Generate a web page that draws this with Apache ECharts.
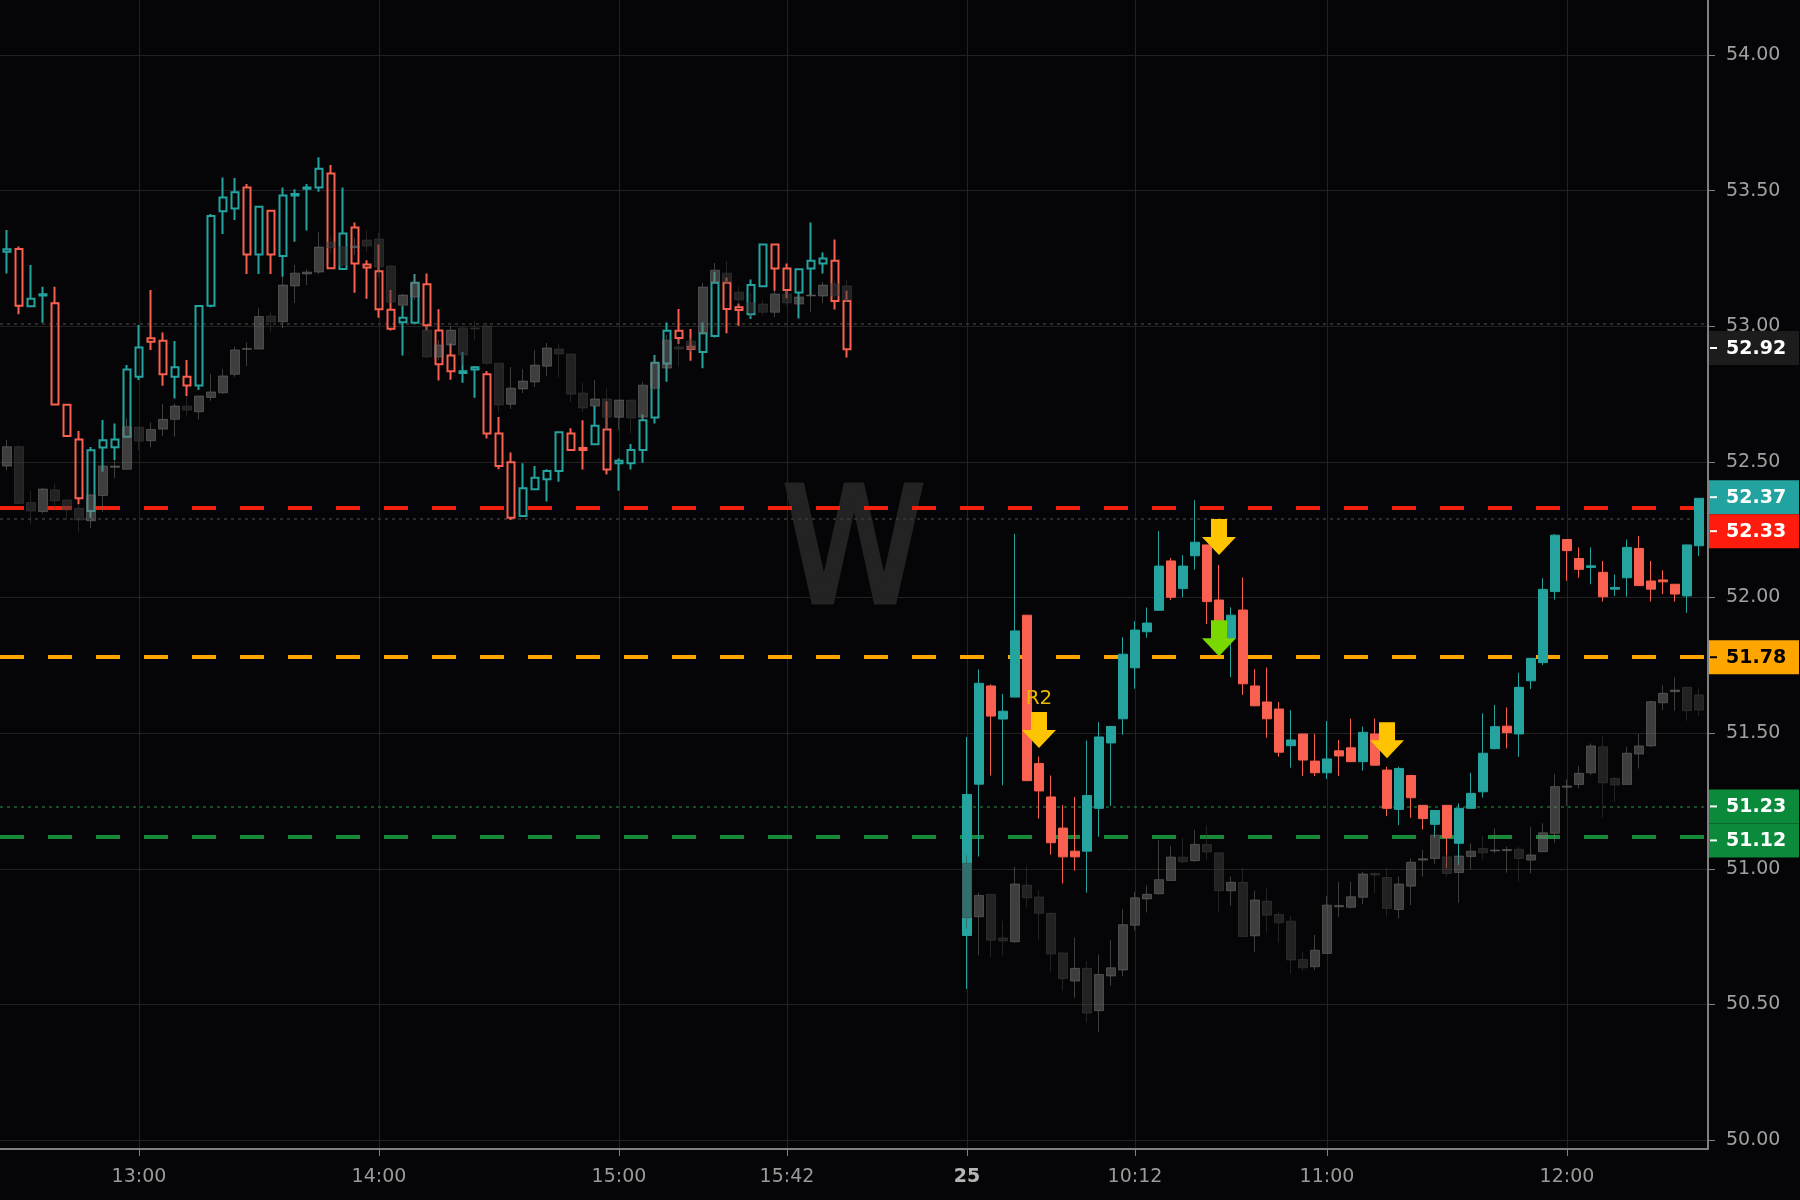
<!DOCTYPE html>
<html>
<head>
<meta charset="utf-8">
<script src="https://cdn.jsdelivr.net/npm/echarts@6/dist/echarts.min.js"></script>
<style>
html,body{margin:0;padding:0;background:#050507;}
#chart{width:1800px;height:1200px;}
</style>
</head>
<body>
<div id="chart"></div>
<script>
// ---------------- DATA ----------------
// x positions are 3-minute slots; session one starts at slot 0 (12:27), session two at slot 80 (09:30 on the 25th)
const sessionOneStart = 0;
const sessionTwoStart = 80;
const timeTickSlots = [11, 31, 51, 65, 80, 94, 110, 130];
const timeTickLabels = ['13:00', '14:00', '15:00', '15:42', '25', '10:12', '11:00', '12:00'];
const priceTicks = [50, 50.5, 51, 51.5, 52, 52.5, 53, 53.5, 54];

// main symbol, [open, close, low, high]
const sessionOne = [
  [53.275,53.284,53.195,53.355],[53.285,53.076,53.044,53.294],[53.074,53.102,53.074,53.226],[53.114,53.118,53.013,53.146],
  [53.085,52.712,52.710,53.146],[52.711,52.596,52.596,52.711],[52.583,52.366,52.344,52.614],[52.319,52.543,52.294,52.555],
  [52.553,52.580,52.464,52.655],[52.554,52.583,52.507,52.642],[52.593,52.841,52.591,52.857],[52.814,52.922,52.802,53.005],
  [52.956,52.943,52.913,53.134],[52.947,52.823,52.781,52.977],[52.814,52.849,52.734,52.946],[52.814,52.782,52.743,52.876],
  [52.782,53.075,52.765,53.079],[53.076,53.407,53.070,53.414],[53.424,53.475,53.340,53.549],[53.434,53.494,53.392,53.547],
  [53.512,53.265,53.193,53.525],[53.265,53.441,53.193,53.444],[53.426,53.265,53.193,53.429],[53.259,53.482,53.183,53.512],
  [53.482,53.488,53.312,53.505],[53.507,53.512,53.353,53.525],[53.512,53.581,53.496,53.623],[53.563,53.214,53.210,53.595],
  [53.211,53.342,53.210,53.512],[53.364,53.232,53.124,53.383],[53.228,53.217,53.102,53.244],[53.203,53.063,53.032,53.302],
  [53.061,52.991,52.985,53.134],[53.015,53.032,52.892,53.075],[53.013,53.161,53.011,53.193],[53.155,53.004,52.985,53.195],
  [52.985,52.860,52.800,53.063],[52.892,52.834,52.803,52.937],[52.828,52.834,52.792,52.905],[52.841,52.849,52.737,52.854],
  [52.823,52.605,52.586,52.835],[52.605,52.485,52.473,52.666],[52.499,52.294,52.286,52.535],[52.301,52.403,52.298,52.495],
  [52.399,52.442,52.397,52.485],[52.436,52.467,52.354,52.473],[52.467,52.609,52.427,52.612],[52.605,52.544,52.541,52.624],
  [52.551,52.544,52.472,52.654],[52.565,52.633,52.562,52.706],[52.620,52.472,52.454,52.724],[52.495,52.504,52.394,52.513],
  [52.495,52.544,52.472,52.566],[52.544,52.654,52.497,52.675],[52.664,52.866,52.642,52.894],[52.863,52.984,52.796,53.014],
  [52.984,52.957,52.935,53.064],[52.925,52.916,52.873,52.990],[52.905,52.974,52.845,53.014],[52.964,53.161,52.959,53.201],
  [53.161,53.064,52.974,53.180],[53.070,53.060,53.002,53.084],[53.044,53.152,53.027,53.173],[53.148,53.302,53.148,53.302],
  [53.302,53.213,53.131,53.302],[53.213,53.134,53.103,53.232],[53.125,53.210,53.029,53.210],[53.213,53.242,53.115,53.383],
  [53.232,53.250,53.195,53.272],[53.242,53.093,53.062,53.320],[53.093,52.915,52.885,53.131]
];
const sessionTwo = [
  [50.754,51.274,50.557,51.486],[51.312,51.684,51.045,51.735],[51.674,51.563,51.344,51.680],[51.552,51.581,51.308,51.645],
  [51.633,51.877,51.633,52.235],[51.935,51.325,51.325,51.935],[51.388,51.287,51.185,51.414],[51.265,51.096,51.052,51.344],
  [51.150,51.044,50.946,51.235],[51.065,51.044,50.993,51.265],[51.065,51.270,50.912,51.473],[51.223,51.486,51.118,51.541],
  [51.464,51.525,51.232,51.525],[51.553,51.791,51.494,51.854],[51.741,51.880,51.664,51.913],[51.874,51.906,51.852,51.963],
  [51.953,52.116,51.953,52.245],[52.135,52.001,51.991,52.146],[52.033,52.116,52.001,52.156],[52.154,52.204,52.103,52.359],
  [52.194,51.985,51.902,52.194],[51.991,51.913,51.900,52.120],[51.849,51.935,51.706,51.964],[51.954,51.682,51.641,52.074],
  [51.674,51.601,51.601,51.736],[51.615,51.553,51.483,51.742],[51.589,51.430,51.413,51.615],[51.454,51.475,51.373,51.585],
  [51.497,51.401,51.342,51.497],[51.397,51.354,51.342,51.497],[51.354,51.405,51.331,51.545],[51.435,51.416,51.342,51.475],
  [51.446,51.395,51.395,51.554],[51.395,51.503,51.362,51.524],[51.497,51.382,51.382,51.554],[51.364,51.223,51.194,51.376],
  [51.219,51.370,51.161,51.376],[51.344,51.262,51.188,51.344],[51.234,51.185,51.145,51.234],[51.164,51.215,51.115,51.215],
  [51.234,51.115,51.002,51.234],[51.094,51.223,51.014,51.241],[51.223,51.278,51.223,51.354],[51.284,51.426,51.263,51.573],
  [51.443,51.524,51.440,51.604],[51.526,51.502,51.444,51.595],[51.497,51.669,51.413,51.723],[51.693,51.776,51.663,51.776],
  [51.760,52.030,51.751,52.071],[52.022,52.230,51.993,52.234],[52.214,52.173,52.062,52.214],[52.144,52.104,52.073,52.185],
  [52.111,52.117,52.049,52.185],[52.093,52.003,51.985,52.135],[52.031,52.037,52.006,52.085],[52.073,52.185,52.003,52.214],
  [52.181,52.044,52.044,52.227],[52.061,52.031,51.985,52.135],[52.065,52.058,52.013,52.101],[52.049,52.013,51.985,52.049],
  [52.006,52.194,51.944,52.194],[52.191,52.366,52.153,52.366]
];
// grey comparison overlay, [open, close, low, high]
const compareOne = [
  [52.485,52.556,52.470,52.581],[52.556,52.347,52.345,52.562],[52.350,52.319,52.270,52.394],[52.317,52.400,52.310,52.403],
  [52.397,52.357,52.329,52.421],[52.360,52.323,52.286,52.362],[52.329,52.286,52.240,52.341],[52.283,52.378,52.255,52.384],
  [52.376,52.485,52.317,52.485],[52.480,52.485,52.440,52.505],[52.473,52.630,52.473,52.661],[52.628,52.577,52.544,52.628],
  [52.578,52.620,52.553,52.645],[52.621,52.657,52.596,52.714],[52.657,52.706,52.593,52.716],[52.706,52.691,52.671,52.743],
  [52.685,52.743,52.657,52.743],[52.738,52.758,52.726,52.824],[52.755,52.817,52.750,52.841],[52.823,52.913,52.814,52.925],
  [52.915,52.918,52.854,52.940],[52.916,53.036,52.916,53.066],[53.038,53.017,52.977,53.054],[53.017,53.152,52.993,53.183],
  [53.149,53.196,53.086,53.226],[53.193,53.200,53.152,53.211],[53.200,53.292,53.193,53.348],[53.310,53.290,53.270,53.330],
  [53.292,53.226,53.215,53.300],[53.290,53.296,53.263,53.325],[53.318,53.296,53.274,53.355],[53.322,53.219,53.182,53.344],
  [53.222,53.089,53.086,53.226],[53.078,53.115,53.071,53.119],[53.108,53.160,53.097,53.189],[52.986,52.887,52.883,53.001],
  [52.887,52.931,52.876,52.949],[52.931,52.986,52.916,53.001],[52.994,52.894,52.857,53.000],[52.994,52.990,52.949,53.020],
  [53.001,52.864,52.857,53.016],[52.864,52.710,52.681,52.864],[52.713,52.772,52.695,52.850],[52.769,52.798,52.754,52.842],
  [52.795,52.857,52.776,52.912],[52.853,52.920,52.817,52.938],[52.916,52.898,52.813,52.934],[52.898,52.750,52.721,52.898],
  [52.754,52.699,52.684,52.791],[52.706,52.732,52.702,52.802],[52.732,52.665,52.618,52.772],[52.665,52.728,52.618,52.728],
  [52.728,52.662,52.606,52.728],[52.665,52.783,52.654,52.795],[52.772,52.864,52.765,52.887],[52.846,52.949,52.839,52.968],
  [52.924,52.916,52.850,52.949],[52.946,52.916,52.905,52.957],[52.975,53.145,52.968,53.160],[53.163,53.207,53.156,53.233],
  [53.196,53.163,53.156,53.241],[53.126,53.097,53.078,53.145],[53.086,53.052,53.034,53.123],[53.082,53.052,53.040,53.097],
  [53.052,53.119,53.034,53.134],[53.119,53.086,53.078,53.134],[53.082,53.108,53.075,53.115],[53.112,53.115,53.052,53.134],
  [53.112,53.152,53.086,53.163],[53.156,53.112,53.097,53.170],[53.149,53.097,53.089,53.170]
];
const compareTwo = [
  [51.020,50.820,50.780,51.050],[50.823,50.902,50.681,50.912],[50.906,50.737,50.674,50.906],[50.745,50.734,50.681,50.808],
  [50.731,50.944,50.728,51.007],[50.940,50.893,50.858,51.011],[50.896,50.836,50.737,50.921],[50.836,50.686,50.618,50.836],
  [50.690,50.595,50.550,50.690],[50.586,50.633,50.525,50.747],[50.633,50.468,50.432,50.658],[50.477,50.610,50.398,50.684],
  [50.605,50.635,50.569,50.737],[50.627,50.794,50.605,50.851],[50.792,50.893,50.773,50.915],[50.889,50.906,50.839,50.938],
  [50.908,50.960,50.906,51.105],[50.957,51.043,50.957,51.084],[51.043,51.026,51.020,51.115],[51.030,51.090,51.026,51.143],
  [51.090,51.062,51.033,51.160],[51.059,50.919,50.838,51.059],[50.919,50.950,50.864,50.971],[50.950,50.750,50.750,51.002],
  [50.753,50.885,50.694,50.919],[50.881,50.829,50.764,50.928],[50.832,50.801,50.727,50.842],[50.807,50.664,50.614,50.826],
  [50.666,50.635,50.624,50.694],[50.639,50.700,50.627,50.756],[50.688,50.866,50.688,50.899],[50.860,50.865,50.823,50.952],
  [50.858,50.897,50.854,50.952],[50.895,50.981,50.870,50.989],[50.983,50.977,50.909,50.986],[50.968,50.854,50.823,51.002],
  [50.850,50.944,50.817,50.971],[50.936,51.024,50.866,51.038],[51.032,51.037,50.971,51.069],[51.038,51.124,51.018,51.131],
  [51.044,50.983,50.971,51.054],[50.986,51.047,50.875,51.047],[51.045,51.065,50.998,51.094],[51.075,51.059,51.035,51.121],
  [51.066,51.069,51.057,51.149],[51.067,51.071,50.986,51.082],[51.072,51.038,50.953,51.082],[51.032,51.051,50.983,51.155],
  [51.063,51.133,51.063,51.168],[51.131,51.303,51.096,51.349],[51.301,51.305,51.231,51.330],[51.311,51.352,51.297,51.379],
  [51.354,51.453,51.346,51.462],[51.450,51.317,51.190,51.489],[51.333,51.309,51.247,51.339],[51.311,51.426,51.311,51.450],
  [51.423,51.453,51.370,51.497],[51.453,51.616,51.450,51.620],[51.612,51.647,51.585,51.677],[51.653,51.659,51.583,51.706],
  [51.669,51.583,51.546,51.671],[51.641,51.585,51.563,51.665]
];
// signals [slot, price at arrow tip]
const sellSignals = [[86, 51.445], [101, 52.157], [115, 51.408]];
const sellSignalLabels = ['R2', '', ''];
const exitSignals = [[101, 51.784]];
// horizontal levels
const dashedLevels = [52.33, 51.78, 51.12];
const dottedLevels = [53.005, 52.286, 51.231];
// price tags on the axis
const priceTags = [52.92, 52.37, 52.33, 51.78, 51.23, 51.12];

// ---------------- STYLE ----------------
const UP = '#25a39f', DOWN = '#f9604f';
const dashedColors = ['#f3200f', '#ffa500', '#178a3a'];
const dottedColors = ['#3a3a3a', '#3a3a3a', '#1b6a33'];
const tagBg = ['#1c1c1c', '#22a39f', '#ff1c0c', '#ffa500', '#0b8a3b', '#0b8a3b'];
const tagFg = ['#ffffff', '#ffffff', '#ffffff', '#000000', '#ffffff', '#ffffff'];
const FONT = '"DejaVu Sans", "Liberation Sans", sans-serif';

const toSeries = (rows, start) => rows.map((r, i) => [start + i, r[0], r[1], r[2], r[3]]);

const chart = echarts.init(document.getElementById('chart'), null, {renderer: 'canvas'});

const markLineData = [
  ...dashedLevels.map((v, i) => ({yAxis: v, lineStyle: {color: dashedColors[i], width: 4, type: [24, 24]}})),
  ...dottedLevels.map((v, i) => ({yAxis: v, lineStyle: {color: dottedColors[i], width: 1.5, type: [3, 4]}}))
];

const arrowPath = 'path://M9,0L25,0L25,18L34,18L17,36L0,18L9,18Z';

const option = {
  animation: false,
  backgroundColor: '#050507',
  grid: {left: 0, right: 92, top: 0, bottom: 51, outerBoundsMode: 'none'},
  xAxis: {
    type: 'value', min: -0.583, max: 141.75,
    axisLine: {show: true, onZero: false, lineStyle: {color: '#808080', width: 2}},
    axisTick: {show: true, customValues: timeTickSlots, length: 7, lineStyle: {color: '#808080', width: 1}},
    axisLabel: {
      customValues: timeTickSlots, color: '#9a9a9a', fontSize: 19, fontFamily: FONT, margin: 19,
      formatter: v => {
        const t = timeTickLabels[timeTickSlots.indexOf(Math.round(v))] || '';
        return t === '25' ? '{b|25}' : t;
      },
      rich: {b: {fontWeight: 'bold', color: '#b5b5b5', fontSize: 19, fontFamily: FONT}}
    },
    splitLine: {show: true, lineStyle: {color: '#222222', width: 1}}
  },
  yAxis: {
    type: 'value', position: 'right', min: 49.967, max: 54.203, scale: true,
    axisLine: {show: true, onZero: false, lineStyle: {color: '#808080', width: 2}},
    axisTick: {show: true, customValues: priceTicks, length: 7, lineStyle: {color: '#808080', width: 1}},
    axisLabel: {customValues: priceTicks, color: '#a0a0a0', fontSize: 19, fontFamily: FONT, margin: 18,
      padding: [6, 0, 0, 0], formatter: v => v.toFixed(2)},
    splitLine: {show: true, lineStyle: {color: '#222222', width: 1}}
  },
  series: [
    {
      type: 'candlestick', name: 'prev', data: toSeries(sessionOne, sessionOneStart),
      barWidth: 8, z: 2, silent: true, emphasis: {disabled: true},
      itemStyle: {color: 'rgba(0,0,0,0)', color0: 'rgba(0,0,0,0)', borderColor: UP, borderColor0: DOWN, borderWidth: 2},
      markLine: {silent: true, symbol: ['none', 'none'], label: {show: false}, animation: false, z: 1, data: markLineData}
    },
    {
      type: 'candlestick', name: 'today', data: toSeries(sessionTwo, sessionTwoStart),
      barWidth: 9, z: 2, silent: true, emphasis: {disabled: true},
      itemStyle: {color: UP, color0: DOWN, borderColor: UP, borderColor0: DOWN, borderWidth: 1}
    },
    {
      type: 'candlestick', name: 'compare',
      data: toSeries(compareOne, sessionOneStart).concat(toSeries(compareTwo, sessionTwoStart)),
      barWidth: 9, z: 3, silent: true, emphasis: {disabled: true},
      itemStyle: {color: 'rgba(115,115,115,0.52)', color0: 'rgba(62,62,62,0.52)',
        borderColor: 'rgba(115,115,115,0.52)', borderColor0: 'rgba(62,62,62,0.52)', borderWidth: 1}
    },
    {
      type: 'scatter', name: 'sell', z: 10, silent: true,
      symbol: arrowPath, symbolSize: [34, 36], symbolOffset: [0, -18],
      itemStyle: {color: '#ffc400', opacity: 1},
      data: sellSignals.map((p, i) => ({
        value: p,
        label: {show: !!sellSignalLabels[i], formatter: sellSignalLabels[i], position: 'top', distance: 3,
          color: '#ebb800', fontSize: 20, fontFamily: FONT}
      }))
    },
    {
      type: 'scatter', name: 'exit', z: 10, silent: true,
      symbol: arrowPath, symbolSize: [34, 36], symbolOffset: [0, -18],
      itemStyle: {color: '#78d800', opacity: 1},
      data: exitSignals
    }
  ]
};
chart.setOption(option);

// axis price tags and watermark
const gridRight = 1800 - 92;
const tagH = 34;
const elements = [];
elements.push({
  type: 'text', z: -5, silent: true,
  x: gridRight / 2, y: 560,
  style: {text: 'W', fill: '#232323', stroke: '#232323', lineWidth: 5,
    font: '160px "Liberation Sans Narrow", "DejaVu Sans Condensed", sans-serif',
    textAlign: 'center', textVerticalAlign: 'middle'}
});
let prevBottom = -Infinity;
priceTags.forEach((p, i) => {
  const c = chart.convertToPixel({yAxisIndex: 0}, p);
  const top = Math.max(c - tagH / 2, prevBottom);
  prevBottom = top + tagH;
  elements.push({type: 'rect', z: 100, silent: true,
    shape: {x: gridRight + 1, y: top, width: 1800 - gridRight - 2, height: tagH},
    style: {fill: tagBg[i]}});
  elements.push({type: 'line', z: 101, silent: true,
    shape: {x1: gridRight + 2, y1: top + tagH / 2, x2: gridRight + 9, y2: top + tagH / 2},
    style: {stroke: tagFg[i], lineWidth: 2}});
  elements.push({type: 'text', z: 102, silent: true,
    x: gridRight + 18, y: top + tagH / 2 + 1,
    style: {text: p.toFixed(2), fill: tagFg[i], font: 'bold 19px ' + FONT, textVerticalAlign: 'middle'}});
});
chart.setOption({graphic: {elements}});
</script>
</body>
</html>
